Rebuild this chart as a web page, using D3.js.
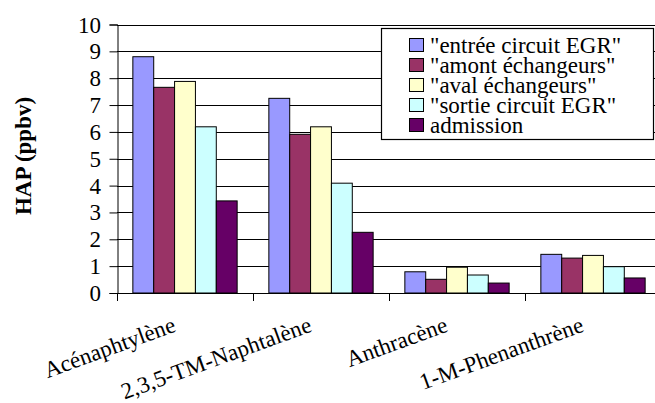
<!DOCTYPE html>
<html><head><meta charset="utf-8"><script src="https://cdn.jsdelivr.net/npm/d3@7"></script>
<style>
svg text { font-family: "Liberation Serif", Tinos, "Times New Roman", serif !important; }
</style>
</head>
<body style="margin:0">
<svg id="fig" width="655" height="403"></svg>
<script>
const categories = ["Acénaphtylène", "2,3,5-TM-Naphtalène", "Anthracène", "1-M-Phenanthrène"];
const seriesNames = ["\"entrée circuit EGR\"", "\"amont échangeurs\"", "\"aval échangeurs\"", "\"sortie circuit EGR\"", "admission"];
const seriesColors = ["#9999FF", "#993366", "#FFFFCC", "#CCFFFF", "#660066"];
const entree    = [8.80, 7.25, 0.79, 1.44];
const amont     = [7.66, 5.91, 0.51, 1.30];
const aval      = [7.88, 6.19, 0.96, 1.40];
const sortie    = [6.19, 4.09, 0.67, 0.98];
const admission = [3.43, 2.26, 0.37, 0.56];
const seriesValues = [entree, amont, aval, sortie, admission];
const yTicks = [0, 1, 2, 3, 4, 5, 6, 7, 8, 9, 10];
const yTitle = "HAP (ppbv)";

const svg = d3.select("#fig");
const W = 655, H = 403;
const mLeft = 117, mRight = 661, mTop = 24.5, mBottom = 293;
const SERIF = "Liberation Serif";

const x = d3.scaleBand().domain(categories).range([mLeft, mRight]).paddingInner(0).paddingOuter(0);
const xs = d3.scaleBand().domain(d3.range(seriesNames.length)).range([0, x.bandwidth()]).paddingOuter(0.76).paddingInner(0);
const y = d3.scaleLinear().domain([0, 10]).range([mBottom, mTop]);

svg.append("defs").append("clipPath").attr("id", "c")
  .append("rect").attr("x", 0).attr("y", 0).attr("width", W).attr("height", H);
const g = svg.append("g").attr("clip-path", "url(#c)");

g.append("g").selectAll("line").data(yTicks.filter(d => d > 0)).join("line")
  .attr("x1", mLeft).attr("x2", mRight)
  .attr("y1", d => Math.round(y(d)) + 0.5).attr("y2", d => Math.round(y(d)) + 0.5)
  .attr("stroke", "#000").attr("stroke-width", 1);

const rows = [];
categories.forEach((c, ci) => seriesValues.forEach((arr, si) => rows.push({c, si, v: arr[ci]})));
g.append("g").selectAll("rect").data(rows).join("rect")
  .attr("x", d => x(d.c) + xs(d.si))
  .attr("width", xs.bandwidth())
  .attr("y", d => y(d.v))
  .attr("height", d => y(0) - y(d.v))
  .attr("fill", d => seriesColors[d.si])
  .attr("stroke", "#000").attr("stroke-width", 1);

const yAxis = d3.axisLeft(y).tickValues(yTicks).tickSize(8).tickFormat("");
const ya = svg.append("g").attr("transform", `translate(${mLeft + 0.5},0)`).call(yAxis);
ya.select(".domain").attr("stroke", "#000");
ya.selectAll(".tick line").attr("stroke", "#000");

svg.selectAll("text.ylab").data(yTicks).join("text").attr("class", "ylab")
  .attr("x", 101).attr("y", d => y(d) + 8)
  .attr("text-anchor", "end")
  .attr("font-family", SERIF).attr("font-size", 23)
  .text(d => d);

const xa = svg.append("g");
xa.append("line").attr("x1", mLeft).attr("x2", W).attr("y1", mBottom + 0.5).attr("y2", mBottom + 0.5).attr("stroke", "#000");
xa.selectAll("line.t").data(categories).join("line").attr("class", "t")
  .attr("x1", d => Math.round(x(d)) + 0.5).attr("x2", d => Math.round(x(d)) + 0.5)
  .attr("y1", mBottom).attr("y2", mBottom + 8).attr("stroke", "#000");

svg.selectAll("text.xlab").data(categories).join("text").attr("class", "xlab")
  .attr("transform", d => `translate(${x(d) + x.bandwidth() / 2 - 8},331) rotate(-20)`)
  .attr("text-anchor", "end")
  .attr("font-family", SERIF).attr("font-size", 23)
  .text(d => d);

svg.append("text")
  .attr("transform", `translate(31,156) rotate(-90)`)
  .attr("text-anchor", "middle")
  .attr("font-family", SERIF).attr("font-size", 23).attr("font-weight", "bold")
  .text(yTitle);

svg.append("rect").attr("x", 381.5).attr("y", 28.5).attr("width", 272).attr("height", 111)
  .attr("fill", "#fff").attr("stroke", "#000").attr("stroke-width", 1.2);
svg.selectAll("rect.sw").data(seriesNames).join("rect").attr("class", "sw")
  .attr("x", 409.5).attr("y", (d, i) => 38.5 + i * 20).attr("width", 14).attr("height", 13)
  .attr("fill", (d, i) => seriesColors[i]).attr("stroke", "#000");
svg.selectAll("text.lg").data(seriesNames).join("text").attr("class", "lg")
  .attr("x", 430).attr("y", (d, i) => 52.5 + i * 20)
  .attr("font-family", SERIF).attr("font-size", 23)
  .text(d => d);
</script>
</body>
</html>
